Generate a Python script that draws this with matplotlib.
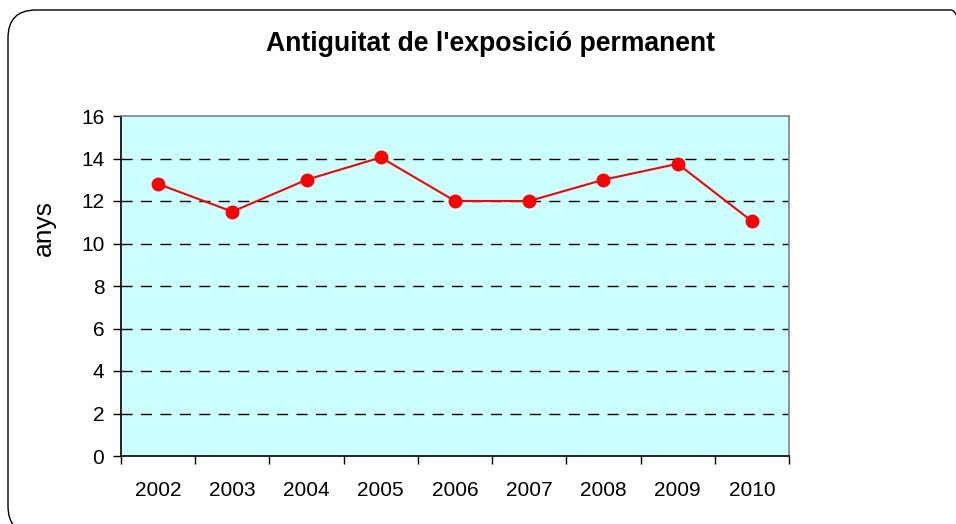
import matplotlib
matplotlib.use('Agg')
import matplotlib.pyplot as plt
from matplotlib.patches import FancyBboxPatch
import numpy as np

# chart data
years = ['2002', '2003', '2004', '2005', '2006', '2007', '2008', '2009', '2010']
antiguitat = [12.8, 11.5, 13.0, 14.05, 12.0, 12.0, 13.0, 13.75, 11.05]
y_ticks = [0, 2, 4, 6, 8, 10, 12, 14, 16]

plt.rcParams['font.family'] = ['Liberation Sans', 'DejaVu Sans']

fig = plt.figure(figsize=(9.56, 5.24), dpi=100)
fig.patch.set_facecolor('white')

# rounded frame round the whole chart
frame = FancyBboxPatch((0.08, -0.10), 9.71, 5.24,
                       boxstyle='round,pad=0,rounding_size=0.28',
                       transform=fig.dpi_scale_trans, facecolor='none',
                       edgecolor='black', linewidth=1.0, clip_on=False)
fig.patches.append(frame)

ax = fig.add_axes([121 / 956, 68 / 524, 668 / 956, 340 / 524])
ax.set_facecolor('#CCFFFF')

x = np.arange(len(years))
ax.plot(x, antiguitat, color='#FF0000', linewidth=1.5, marker='o',
        markersize=9, markerfacecolor='#FF0000', markeredgecolor='#FF0000',
        zorder=3)

ax.set_xlim(-0.5, len(years) - 0.5)
ax.set_ylim(0, 16)
ax.set_yticks(y_ticks)
ax.set_xticks(x)
ax.set_xticklabels(years, fontsize=15)
ax.set_xticks(np.arange(-0.5, len(years)), minor=True)
ax.tick_params(axis='x', which='major', length=0, pad=18)
ax.tick_params(axis='x', which='minor', length=6, width=1, direction='out')
ax.tick_params(axis='y', length=6, width=1, direction='out', labelsize=15, pad=6)

for v in y_ticks[1:-1]:
    ax.axhline(v, color='black', linewidth=1, linestyle=(0, (8, 6)), zorder=1)

ax.spines['left'].set_color('black')
ax.spines['bottom'].set_color('black')
ax.spines['top'].set_color('#808080')
ax.spines['right'].set_color('#808080')
for s in ax.spines.values():
    s.set_linewidth(1.2)

ax.set_ylabel('anys', fontsize=19)
ax.yaxis.set_label_coords(-0.097, 0.67)
fig.text(490 / 956, 1 - 44 / 524, "Antiguitat de l'exposició permanent",
         ha='center', va='center', fontsize=19.2, fontweight='bold')

fig.savefig('out.png', dpi=100)
